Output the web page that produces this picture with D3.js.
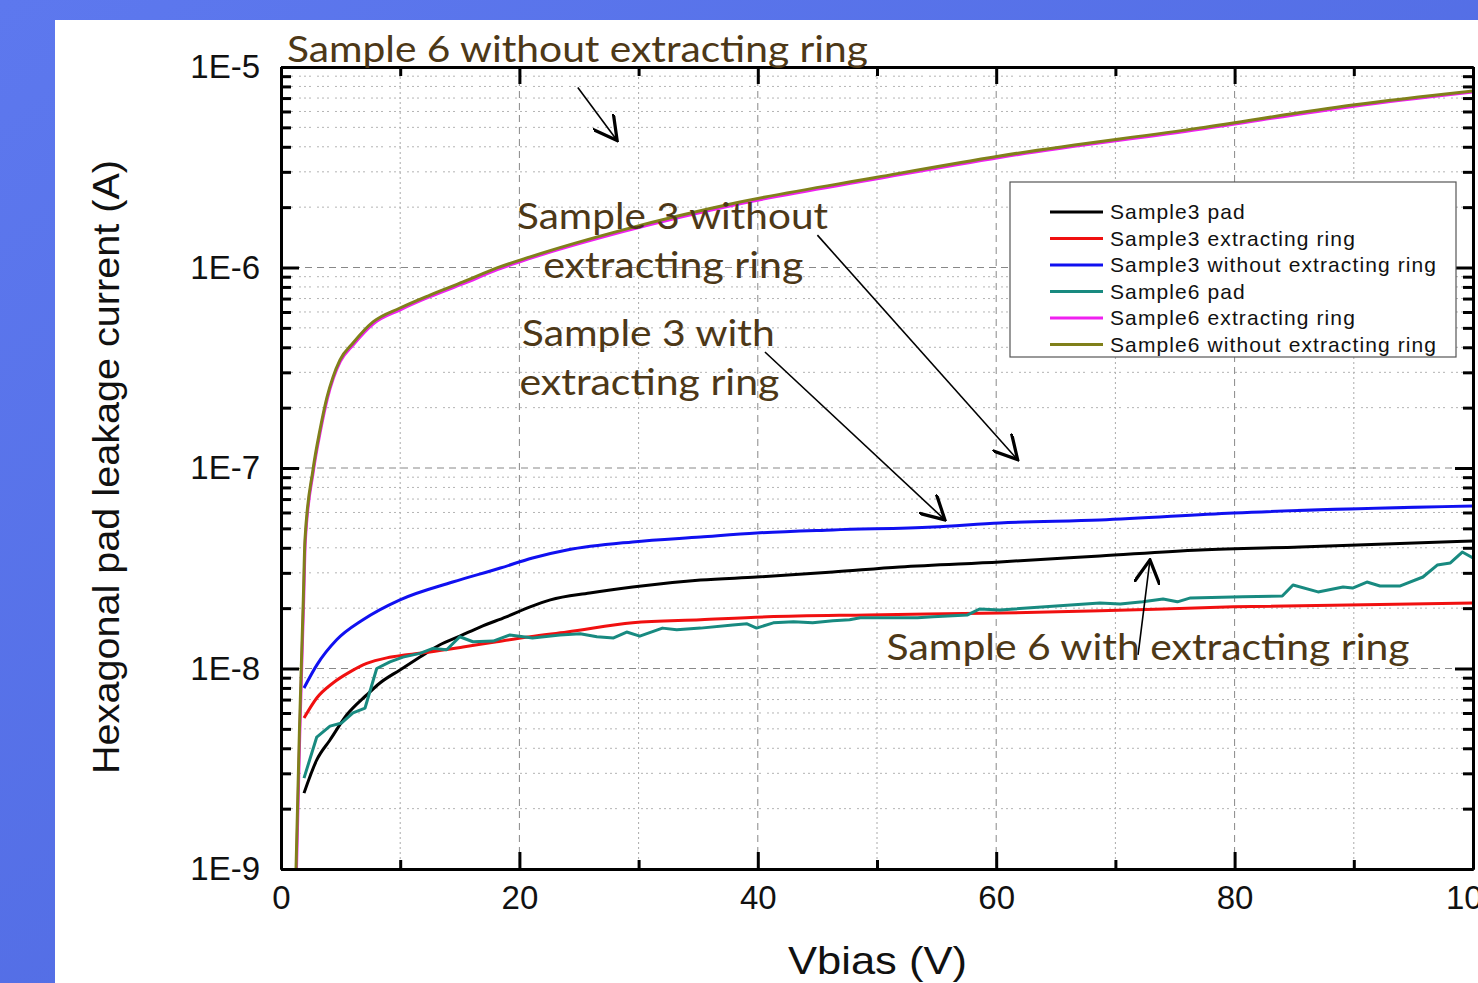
<!DOCTYPE html>
<html>
<head>
<meta charset="utf-8">
<script src="https://cdn.jsdelivr.net/npm/d3@7"></script>
<style>
  body { margin: 0; overflow: hidden; background: #fff; }
  svg { display: block; }
</style>
</head>
<body>
<svg id="chart" width="1478" height="983"></svg>
<script>
// values (Vbias in V, current in A)
const s3_pad_v = [1.93, 3.0, 4.11, 5.51, 7.19, 8.3, 9.98, 11.66, 13.3, 15.0, 16.7, 18.9, 20.9, 22.6, 25.9, 29.5, 35.2, 39.9, 46.3, 51.9, 60.3, 68.7, 77.1, 85.5, 100]
const s3_pad_i = [2.39e-9, 3.50e-9, 4.40e-9, 5.86e-9, 7.38e-9, 8.47e-9, 9.84e-9, 1.14e-8, 1.31e-8, 1.45e-8, 1.61e-8, 1.81e-8, 2.03e-8, 2.20e-8, 2.38e-8, 2.55e-8, 2.76e-8, 2.86e-8, 3.03e-8, 3.21e-8, 3.40e-8, 3.64e-8, 3.90e-8, 4.04e-8, 4.33e-8]

const s3_ring_v = [1.93, 3.0, 4.36, 5.79, 7.19, 8.87, 10.55, 12.5, 15.27, 18.1, 20.9, 24.0, 29.5, 35.2, 40.8, 49.2, 60.3, 68.7, 79.9, 100]
const s3_ring_i = [5.66e-9, 7.13e-9, 8.47e-9, 9.62e-9, 1.06e-8, 1.13e-8, 1.17e-8, 1.21e-8, 1.28e-8, 1.36e-8, 1.44e-8, 1.52e-8, 1.69e-8, 1.75e-8, 1.81e-8, 1.85e-8, 1.89e-8, 1.94e-8, 2.03e-8, 2.12e-8]

const s3_noring_v = [1.93, 3.0, 4.67, 6.88, 9.98, 14.4, 18.4, 21.1, 24.0, 29.5, 35.2, 39.9, 46.3, 54.7, 60.3, 68.7, 79.9, 100]
const s3_noring_i = [8.00e-9, 1.04e-8, 1.39e-8, 1.75e-8, 2.20e-8, 2.70e-8, 3.17e-8, 3.56e-8, 3.90e-8, 4.28e-8, 4.53e-8, 4.74e-8, 4.91e-8, 5.08e-8, 5.32e-8, 5.51e-8, 5.97e-8, 6.46e-8]

const s6_pad_v = [1.93, 3.0, 4.11, 5.09, 6.04, 7.05, 8.03, 9.14, 10.23, 11.66, 12.75, 13.9, 15.0, 16.1, 17.8, 19.2, 21.1, 23.4, 25.1, 26.5, 27.9, 29.0, 30.1, 32.0, 33.2, 35.2, 37.9, 39.1, 39.9, 41.3, 43.0, 44.6, 46.3, 47.7, 48.6, 50.5, 53.4, 54.7, 57.6, 58.6, 60.3, 68.7, 70.4, 72.3, 74.0, 75.2, 76.3, 80.7, 84.0, 84.9, 87.0, 89.1, 89.9, 91.1, 92.2, 93.9, 95.8, 97.0, 98.1, 99.1, 100]
const s6_pad_i = [2.84e-9, 4.55e-9, 5.16e-9, 5.35e-9, 6.00e-9, 6.35e-9, 1.00e-8, 1.08e-8, 1.14e-8, 1.19e-8, 1.26e-8, 1.24e-8, 1.44e-8, 1.36e-8, 1.37e-8, 1.47e-8, 1.42e-8, 1.47e-8, 1.49e-8, 1.44e-8, 1.42e-8, 1.52e-8, 1.45e-8, 1.59e-8, 1.56e-8, 1.59e-8, 1.65e-8, 1.67e-8, 1.59e-8, 1.69e-8, 1.71e-8, 1.69e-8, 1.73e-8, 1.75e-8, 1.79e-8, 1.79e-8, 1.79e-8, 1.81e-8, 1.85e-8, 1.98e-8, 1.96e-8, 2.12e-8, 2.10e-8, 2.15e-8, 2.22e-8, 2.15e-8, 2.25e-8, 2.28e-8, 2.30e-8, 2.61e-8, 2.41e-8, 2.55e-8, 2.52e-8, 2.70e-8, 2.58e-8, 2.58e-8, 2.86e-8, 3.28e-8, 3.36e-8, 3.81e-8, 3.56e-8]

const s6_ring_v = [1.3, 1.57, 1.9, 2.04, 2.71, 3.3, 3.89, 4.39, 4.98, 6.07, 7.75, 10.0, 12.5, 15.3, 18.15, 20.9, 28.7, 38.5, 50.0, 60.3, 77.1, 89.9, 100]
const s6_ring_i = [1.0e-9, 4.6e-9, 2.15e-8, 4.3e-8, 9.6e-8, 1.52e-7, 2.22e-7, 2.80e-7, 3.40e-7, 4.12e-7, 5.24e-7, 6.15e-7, 7.15e-7, 8.30e-7, 9.75e-7, 1.11e-6, 1.51e-6, 2.08e-6, 2.77e-6, 3.54e-6, 4.89e-6, 6.36e-6, 7.50e-6]

const s6_noring_v = [1.26, 1.54, 1.87, 2.01, 2.68, 3.27, 3.86, 4.36, 4.95, 6.04, 7.72, 9.98, 12.5, 15.27, 18.12, 20.9, 28.7, 38.5, 50.0, 60.3, 77.1, 89.9, 100]
const s6_noring_i = [1.0e-9, 4.76e-9, 2.20e-8, 4.38e-8, 9.77e-8, 1.55e-7, 2.26e-7, 2.84e-7, 3.46e-7, 4.20e-7, 5.35e-7, 6.28e-7, 7.29e-7, 8.47e-7, 9.95e-7, 1.13e-6, 1.54e-6, 2.12e-6, 2.82e-6, 3.60e-6, 4.97e-6, 6.46e-6, 7.59e-6]

const series_names = ["Sample3 pad", "Sample3 extracting ring", "Sample3 without extracting ring",
  "Sample6 pad", "Sample6 extracting ring", "Sample6 without extracting ring"]
const series_colors = ["#000000", "#f01010", "#1010f0", "#188a80", "#f020f0", "#80801a"]

const x_ticks = [0, 20, 40, 60, 80, 100]
const x_minor = [10, 30, 50, 70, 90]
const y_ticks = [1e-9, 1e-8, 1e-7, 1e-6, 1e-5]
const y_tick_labels = ["1E-9", "1E-8", "1E-7", "1E-6", "1E-5"]

// annotations in data units: text lines and arrows
const notes = [
  {text: "Sample 6 without extracting ring", v: 0.5, i: 1.06e-5, w: 581},
  {text: "Sample 3 without", v: 19.8, i: 1.56e-6, w: 311},
  {text: "extracting ring", v: 22.0, i: 8.87e-7, w: 260},
  {text: "Sample 3 with", v: 20.2, i: 4.06e-7, w: 253},
  {text: "extracting ring", v: 20.0, i: 2.31e-7, w: 260},
  {text: "Sample 6 with extracting ring", v: 50.8, i: 1.10e-8, w: 523}
]
const arrows = [
  {v0: 24.9, i0: 7.9e-6, v1: 28.2, i1: 4.3e-6},
  {v0: 45.0, i0: 1.45e-6, v1: 61.8, i1: 1.10e-7},
  {v0: 40.6, i0: 3.79e-7, v1: 55.7, i1: 5.51e-8},
  {v0: 71.9, i0: 1.17e-8, v1: 72.9, i1: 3.48e-8}
]

let margin = {left: 281, right: 5, top: 67, bottom: 114},
  W = 1478, H = 983,
  font = "Liberation Sans, Arial, sans-serif"

let svg = d3.select("#chart")
let defs = svg.append("defs")

// slide background
let grad = defs.append("linearGradient")
  .attr("id", "bg").attr("x1", 0).attr("y1", 0).attr("x2", 1).attr("y2", 1)
grad.append("stop").attr("offset", 0).attr("stop-color", "#5d78ee")
grad.append("stop").attr("offset", 1).attr("stop-color", "#4c66de")
svg.append("rect").attr("width", W).attr("height", H).attr("fill", "url(#bg)")
svg.append("rect").attr("x", 55).attr("y", 20).attr("width", W - 55).attr("height", H - 20).attr("fill", "#fff")

let x = d3.scaleLinear().domain([0, 100]).range([margin.left, W - margin.right])
let y = d3.scaleLog().domain([1e-9, 1e-5]).range([H - margin.bottom, margin.top])

defs.append("clipPath").attr("id", "plot")
  .append("rect")
  .attr("x", x(0)).attr("y", y(1e-5))
  .attr("width", x(100) - x(0)).attr("height", y(1e-9) - y(1e-5))

let y_minor = y.ticks().filter(d => y_ticks.indexOf(d) == -1)

// grid
let grid = svg.append("g")
grid.selectAll(".vmin").data(x_minor).enter().append("line")
  .attr("x1", d => x(d)).attr("x2", d => x(d)).attr("y1", y(1e-5)).attr("y2", y(1e-9))
  .attr("stroke", "#aaa").attr("stroke-width", 1).attr("stroke-dasharray", "2,3")
grid.selectAll(".vmaj").data(x_ticks.slice(1, -1)).enter().append("line")
  .attr("x1", d => x(d)).attr("x2", d => x(d)).attr("y1", y(1e-5)).attr("y2", y(1e-9))
  .attr("stroke", "#888").attr("stroke-width", 1).attr("stroke-dasharray", "7,5")
grid.selectAll(".hmin").data(y_minor).enter().append("line")
  .attr("x1", x(0)).attr("x2", x(100)).attr("y1", d => y(d)).attr("y2", d => y(d))
  .attr("stroke", "#b4b4b4").attr("stroke-width", 1).attr("stroke-dasharray", "2,3,2,3,2,6")
grid.selectAll(".hmaj").data(y_ticks.slice(1, -1)).enter().append("line")
  .attr("x1", x(0)).attr("x2", x(100)).attr("y1", d => y(d)).attr("y2", d => y(d))
  .attr("stroke", "#888").attr("stroke-width", 1).attr("stroke-dasharray", "7,5")

// curves
let series = [
  [s3_pad_v, s3_pad_i], [s3_ring_v, s3_ring_i], [s3_noring_v, s3_noring_i],
  [s6_pad_v, s6_pad_i], [s6_ring_v, s6_ring_i], [s6_noring_v, s6_noring_i]
].map((s, k) => ({
  name: series_names[k],
  color: series_colors[k],
  points: s[0].map((v, j) => [v, s[1][j]])
}))

let line_smooth = d3.line().x(d => x(d[0])).y(d => y(d[1])).curve(d3.curveMonotoneX)
let line_raw = d3.line().x(d => x(d[0])).y(d => y(d[1]))

svg.append("g").attr("clip-path", "url(#plot)")
  .selectAll("path").data(series).enter().append("path")
  .attr("d", d => d.name == "Sample6 pad" ? line_raw(d.points) : line_smooth(d.points))
  .attr("fill", "none")
  .attr("stroke", d => d.color)
  .attr("stroke-width", 3)
  .attr("stroke-linejoin", "round")

// axes
function style_axis(g, size) {
  g.select(".domain").attr("stroke-width", 3).attr("stroke", "#000")
  g.selectAll(".tick line").attr("stroke-width", 3).attr("stroke", "#000")
  g.selectAll("text").attr("font-family", font)
    .attr("font-size", size).attr("fill", "#111")
}

function add_axis(axis, tx, ty, values, inner, labels, padding, size) {
  let a = axis.tickValues(values).tickSizeInner(inner).tickSizeOuter(0)
  if (labels) a.tickFormat(labels).tickPadding(padding)
  else a.tickFormat("")
  let g = svg.append("g").attr("transform", `translate(${tx},${ty})`).call(a)
  style_axis(g, size)
  return g
}

add_axis(d3.axisBottom(x), 0, y(1e-9), x_ticks, -17, d3.format("d"), 17, 33)
add_axis(d3.axisBottom(x), 0, y(1e-9), x_minor, -9)
add_axis(d3.axisTop(x), 0, y(1e-5), x_ticks, -17)
add_axis(d3.axisTop(x), 0, y(1e-5), x_minor, -9)
add_axis(d3.axisLeft(y), x(0), 0, y_ticks, -18, (d, k) => y_tick_labels[k], 21, 33)
add_axis(d3.axisLeft(y), x(0), 0, y_minor, -10)
add_axis(d3.axisRight(y), x(100), 0, y_ticks, -18)
add_axis(d3.axisRight(y), x(100), 0, y_minor, -10)

// axis titles
svg.append("text")
  .attr("x", (x(0) + x(100)) / 2 - 89).attr("y", 974)
  .attr("font-family", font).attr("font-size", 39).attr("fill", "#111")
  .attr("textLength", 179).attr("lengthAdjust", "spacingAndGlyphs")
  .text("Vbias (V)")
svg.append("text")
  .attr("transform", `translate(119,${(y(1e-5) + y(1e-9)) / 2 + 306}) rotate(-90)`)
  .attr("font-family", font).attr("font-size", 37).attr("fill", "#111")
  .attr("textLength", 614).attr("lengthAdjust", "spacingAndGlyphs")
  .text("Hexagonal pad leakage current (A)")

// legend
let lg = svg.append("g").attr("transform", "translate(1010,182)")
lg.append("rect").attr("width", 446).attr("height", 175)
  .attr("fill", "#fff").attr("stroke", "#555").attr("stroke-width", 1.2)
let rows = lg.selectAll(".row").data(series).enter().append("g")
  .attr("transform", (d, k) => `translate(0,${30 + k * 26.5})`)
rows.append("line").attr("x1", 40).attr("x2", 93)
  .attr("stroke", d => d.color).attr("stroke-width", 3)
rows.append("text").attr("x", 100).attr("dy", "0.35em")
  .attr("font-family", font).attr("font-size", 21).attr("fill", "#111")
  .attr("letter-spacing", 1.1)
  .text(d => d.name)

// annotations
svg.append("g").selectAll("text").data(notes).enter().append("text")
  .attr("x", d => x(d.v)).attr("y", d => y(d.i))
  .attr("font-family", "Century Gothic, URW Gothic, Lato, sans-serif")
  .attr("font-size", 37).attr("fill", "#4d3817")
  .attr("textLength", d => d.w).attr("lengthAdjust", "spacingAndGlyphs")
  .text(d => d.text)

defs.append("marker")
  .attr("id", "head").attr("viewBox", "0 0 12 12").attr("refX", 11).attr("refY", 6)
  .attr("markerWidth", 26).attr("markerHeight", 26).attr("markerUnits", "userSpaceOnUse")
  .attr("orient", "auto")
  .append("path").attr("d", "M0,0 L11,6 L0,12").attr("fill", "none").attr("stroke", "#000").attr("stroke-width", 1.5)

svg.append("g").selectAll("line").data(arrows).enter().append("line")
  .attr("x1", d => x(d.v0)).attr("y1", d => y(d.i0))
  .attr("x2", d => x(d.v1)).attr("y2", d => y(d.i1))
  .attr("stroke", "#000").attr("stroke-width", 1.6)
  .attr("marker-end", "url(#head)")
</script>
</body>
</html>
